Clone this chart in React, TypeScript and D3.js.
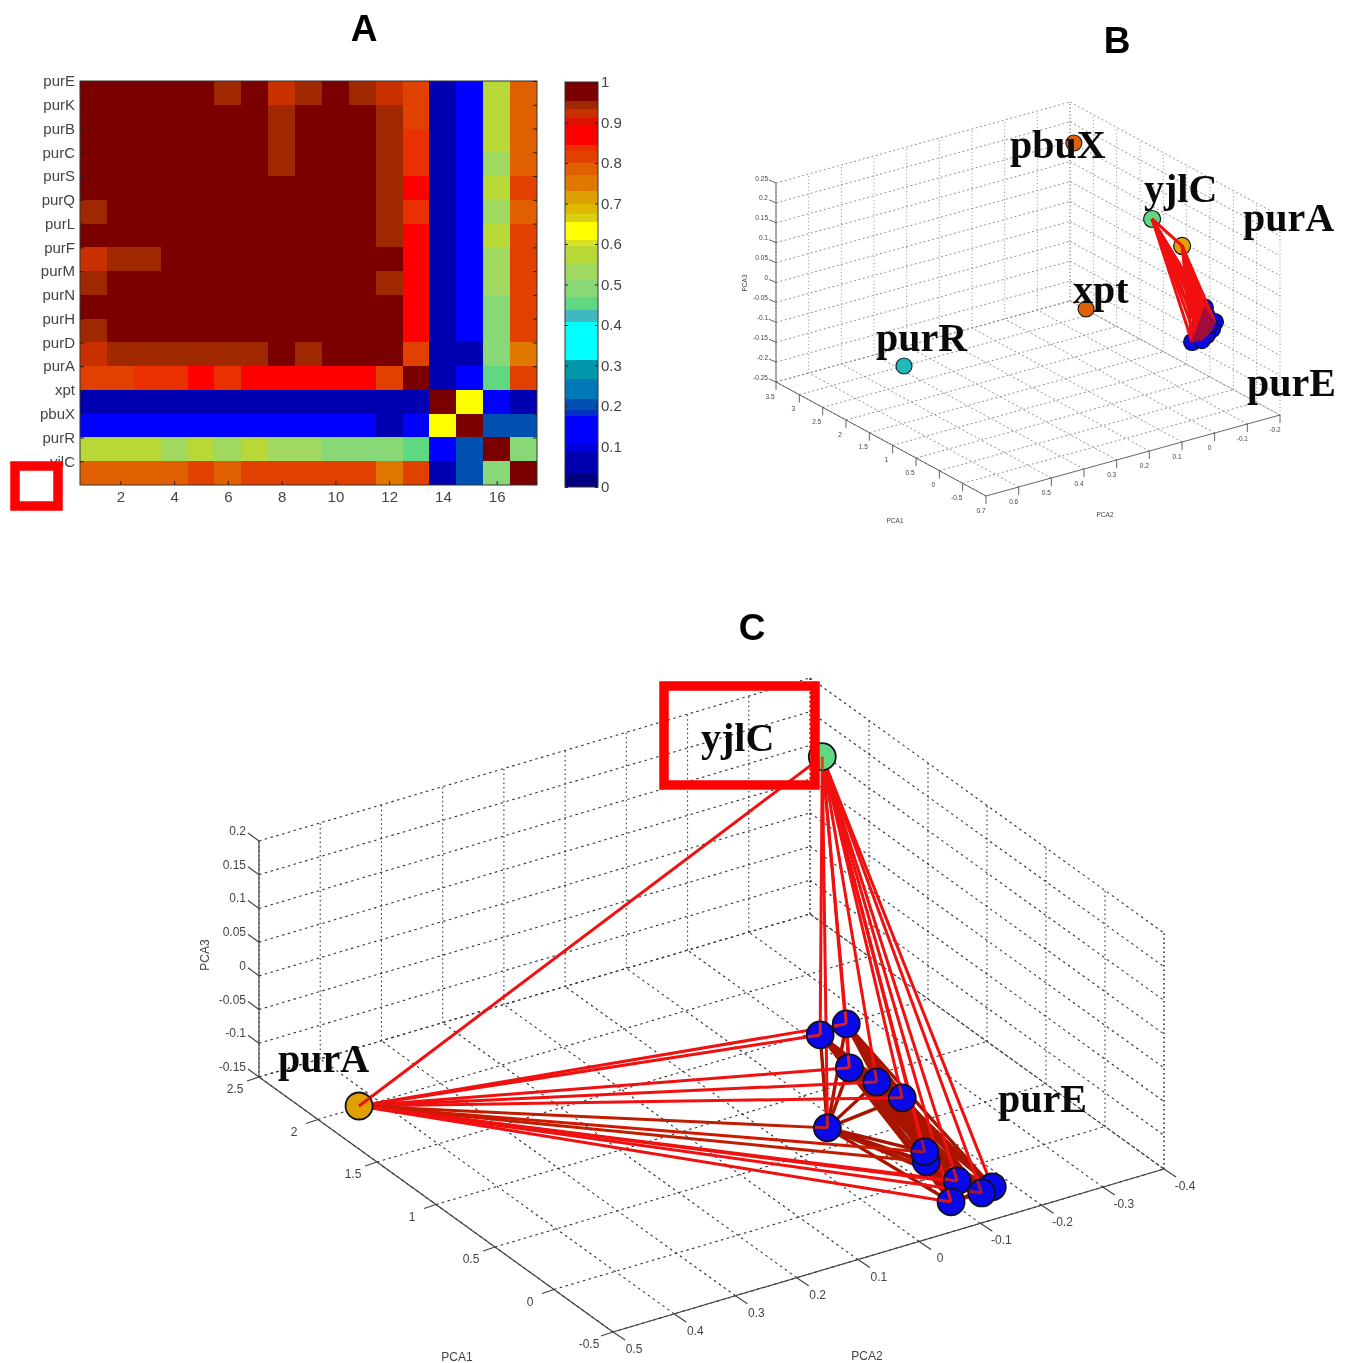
import React, { useRef, useEffect } from 'react';
import * as d3 from 'd3';

// heatmap (panel A)
const genes = ['purE', 'purK', 'purB', 'purC', 'purS', 'purQ', 'purL', 'purF', 'purM', 'purN', 'purH', 'purD', 'purA', 'xpt', 'pbuX', 'purR', 'yjlC'];
const colTicks = [2, 4, 6, 8, 10, 12, 14, 16];
const barTicks = [0, 0.1, 0.2, 0.3, 0.4, 0.5, 0.6, 0.7, 0.8, 0.9, 1];
const corr = [
  [1, 1, 1, 1, 1, 0.94, 1, 0.92, 0.94, 1, 0.94, 0.92, 0.81, 0.07, 0.12, 0.57, 0.78],
  [1, 1, 1, 1, 1, 1, 1, 0.94, 1, 1, 1, 0.94, 0.81, 0.07, 0.12, 0.57, 0.78],
  [1, 1, 1, 1, 1, 1, 1, 0.94, 1, 1, 1, 0.94, 0.84, 0.07, 0.12, 0.57, 0.78],
  [1, 1, 1, 1, 1, 1, 1, 0.94, 1, 1, 1, 0.94, 0.84, 0.07, 0.12, 0.52, 0.78],
  [1, 1, 1, 1, 1, 1, 1, 1, 1, 1, 1, 0.94, 0.87, 0.07, 0.12, 0.57, 0.81],
  [0.94, 1, 1, 1, 1, 1, 1, 1, 1, 1, 1, 0.94, 0.84, 0.07, 0.12, 0.52, 0.78],
  [1, 1, 1, 1, 1, 1, 1, 1, 1, 1, 1, 0.94, 0.87, 0.07, 0.12, 0.57, 0.81],
  [0.92, 0.94, 0.94, 1, 1, 1, 1, 1, 1, 1, 1, 1, 0.87, 0.07, 0.12, 0.52, 0.81],
  [0.94, 1, 1, 1, 1, 1, 1, 1, 1, 1, 1, 0.94, 0.87, 0.07, 0.12, 0.52, 0.81],
  [1, 1, 1, 1, 1, 1, 1, 1, 1, 1, 1, 1, 0.87, 0.07, 0.12, 0.48, 0.81],
  [0.94, 1, 1, 1, 1, 1, 1, 1, 1, 1, 1, 1, 0.87, 0.07, 0.12, 0.48, 0.81],
  [0.92, 0.94, 0.94, 0.94, 0.94, 0.94, 0.94, 1, 0.94, 1, 1, 1, 0.81, 0.07, 0.07, 0.48, 0.75],
  [0.81, 0.81, 0.84, 0.84, 0.87, 0.84, 0.87, 0.87, 0.87, 0.87, 0.87, 0.81, 1, 0.07, 0.12, 0.45, 0.81],
  [0.07, 0.07, 0.07, 0.07, 0.07, 0.07, 0.07, 0.07, 0.07, 0.07, 0.07, 0.07, 0.07, 1, 0.63, 0.12, 0.07],
  [0.12, 0.12, 0.12, 0.12, 0.12, 0.12, 0.12, 0.12, 0.12, 0.12, 0.12, 0.07, 0.12, 0.63, 1, 0.2, 0.2],
  [0.57, 0.57, 0.57, 0.52, 0.57, 0.52, 0.57, 0.52, 0.52, 0.48, 0.48, 0.48, 0.45, 0.12, 0.2, 1, 0.48],
  [0.78, 0.78, 0.78, 0.78, 0.81, 0.78, 0.81, 0.81, 0.81, 0.81, 0.81, 0.75, 0.81, 0.07, 0.2, 0.48, 1],
];
const bandBreaks = [0.035, 0.09, 0.105, 0.175, 0.19, 0.218, 0.267, 0.313, 0.408, 0.437, 0.47, 0.51, 0.55, 0.595, 0.61, 0.655, 0.675, 0.7, 0.73, 0.77, 0.8, 0.83, 0.845, 0.895, 0.91, 0.933, 0.953];
const bandColors = ['#000080', '#0000b0', '#0000e0', '#0000ff', '#0030c0', '#0050b0', '#0078b8', '#0098a8', '#00ffff', '#40b8c0', '#60d880', '#88d878', '#a0d860', '#b8d838', '#d8e020', '#ffff00', '#d8d010', '#e0b800', '#dca000', '#e07800', '#e06000', '#e04000', '#e83000', '#ff0000', '#e01000', '#c83000', '#a02800', '#7a0000'];

// panel B
const bPca1Ticks = [3.5, 3, 2.5, 2, 1.5, 1, 0.5, 0, -0.5];
const bPca2Ticks = [0.7, 0.6, 0.5, 0.4, 0.3, 0.2, 0.1, 0, -0.1, -0.2];
const bPca3Ticks = [0.25, 0.2, 0.15, 0.1, 0.05, 0, -0.05, -0.1, -0.15, -0.2, -0.25];
const bClusterPca1 = [0.267, 0.035, -0.18, -0.342, -0.463, -0.334, -0.462, -0.538, -0.558, -0.215, -0.041, -0.241];
const bClusterPca2 = [-0.151, -0.124, -0.118, -0.086, -0.053, -0.05, -0.02, 0.003, -0.024, -0.095, -0.101, -0.057];
const bClusterPca3 = [-0.05, -0.05, -0.05, -0.05, -0.05, -0.05, -0.05, -0.05, -0.05, -0.05, -0.05, -0.05];
const bHubPca1 = [1.006, 0.887];
const bHubPca2 = [-0.187, -0.078];
const bHubPca3 = [0.05, 0.15];
const bLonePca1 = [2.92, 2.133, 1.954];
const bLonePca2 = [-0.129, -0.054, 0.529];
const bLonePca3 = [0.2, -0.15, -0.15];

// panel C
const cPca1Ticks = [2.5, 2, 1.5, 1, 0.5, 0, -0.5];
const cPca2Ticks = [0.5, 0.4, 0.3, 0.2, 0.1, 0, -0.1, -0.2, -0.3, -0.4];
const cPca3Ticks = [0.2, 0.15, 0.1, 0.05, 0, -0.05, -0.1, -0.15];
const cClusterPca1 = [0.932, 0.904, 0.558, 0.372, 0.177, 0.111, -0.416, -0.33, -0.258, -0.418, -0.394, -0.419];
const cClusterPca2 = [-0.157, -0.109, -0.09, -0.099, -0.103, 0.032, -0.028, -0.042, -0.109, -0.068, -0.14, -0.118];
const cClusterPca3 = [-0.05, -0.05, -0.05, -0.05, -0.05, -0.05, -0.05, -0.05, -0.12, -0.12, -0.12, -0.12];
const cHubPca1 = [1.73, 2.095];
const cHubPca2 = [0.485, -0.342];
const cHubPca3 = [-0.1, 0.15];

const FONT = '"Liberation Sans", Arial, sans-serif';
const SERIF = '"Liberation Serif", "Times New Roman", serif';
const BLUE = '#0808e8';
const GOLD = '#e0a000';
const GREEN = '#60d880';
const ORANGE = '#e06008';
const TEAL = '#20b8b8';
const RED = '#f01010';
const DARK = '#a81400';

// spoke shades from purA, and the short line end left showing on each node of panel C
const cPurAShades = [RED, RED, RED, RED, RED, '#c01c00', '#c01c00', '#d01800', RED, RED, RED, RED];
const cStubShades = ['#d82020', '#d82020', '#d82020', '#b02030', '#b02030', '#c02020', null, '#a01830', '#c81818', '#d81818', null, '#a01830'];

// MATLAB style orthographic box: three scales, each running along one edge of the box
function makeBox(corner, p1Dom, p1Vec, p2Dom, p2Vec, p3Dom) {
  const s1 = d3.scaleLinear().domain(p1Dom).range([0, 1]);
  const s2 = d3.scaleLinear().domain(p2Dom).range([0, 1]);
  const s3 = d3.scaleLinear().domain(p3Dom).range(corner.h);
  const project = (a, b, c) => [
    corner.x + s1(a) * p1Vec[0] + s2(b) * p2Vec[0],
    corner.y + s1(a) * p1Vec[1] + s2(b) * p2Vec[1] + s3(c),
  ];
  return { project, p1Dom, p2Dom, p3Dom };
}

function drawBox(g, box, opt) {
  const { project, p1Dom, p2Dom, p3Dom } = box;
  const [p1Lo, p1Hi] = p1Dom;
  const [p2Lo, p2Hi] = p2Dom;
  const [p3Lo, p3Hi] = p3Dom;
  const seg = (a, b, style) => {
    g.append('line')
      .attr('x1', a[0]).attr('y1', a[1])
      .attr('x2', b[0]).attr('y2', b[1])
      .attr('stroke', style.color)
      .attr('stroke-width', style.width)
      .attr('stroke-dasharray', style.dash || null);
  };
  const vDots = { color: opt.gridColor, width: opt.gridWidth, dash: opt.vDash };
  const hDots = { color: opt.gridColor, width: opt.gridWidth, dash: opt.hDash };

  opt.p1Ticks.forEach(t => {
    seg(project(t, p2Lo, p3Lo), project(t, p2Hi, p3Lo), hDots);
    seg(project(t, p2Hi, p3Lo), project(t, p2Hi, p3Hi), vDots);
  });
  opt.p2Ticks.forEach(t => {
    seg(project(p1Lo, t, p3Lo), project(p1Hi, t, p3Lo), hDots);
    seg(project(p1Hi, t, p3Lo), project(p1Hi, t, p3Hi), vDots);
  });
  opt.p3Ticks.forEach(t => {
    seg(project(p1Hi, p2Lo, t), project(p1Hi, p2Hi, t), hDots);
    seg(project(p1Hi, p2Hi, t), project(p1Lo, p2Hi, t), hDots);
  });
  seg(project(p1Lo, p2Hi, p3Lo), project(p1Lo, p2Hi, p3Hi), vDots);

  const solid = { color: opt.axisColor, width: opt.axisWidth };
  seg(project(p1Hi, p2Lo, p3Lo), project(p1Hi, p2Lo, p3Hi), solid);
  seg(project(p1Hi, p2Lo, p3Lo), project(p1Lo, p2Lo, p3Lo), solid);
  seg(project(p1Lo, p2Lo, p3Lo), project(p1Lo, p2Hi, p3Lo), solid);

  const tickText = (p, off, t, anchor) => {
    g.append('text')
      .attr('x', p[0] + off[0]).attr('y', p[1] + off[1])
      .attr('text-anchor', anchor || 'middle')
      .attr('dominant-baseline', 'central')
      .attr('font-family', FONT)
      .attr('font-size', opt.tickFont)
      .attr('fill', '#444')
      .text(t);
  };
  const tickMark = (p, d) => seg(p, [p[0] + d[0], p[1] + d[1]], solid);

  opt.p1Ticks.forEach(t => {
    const p = project(t, p2Lo, p3Lo);
    tickMark(p, opt.p1Mark);
    tickText(p, opt.p1Label, t);
  });
  opt.p2Ticks.forEach(t => {
    const p = project(p1Lo, t, p3Lo);
    tickMark(p, opt.p2Mark);
    tickText(p, opt.p2Label, t);
  });
  opt.p3Ticks.forEach(t => {
    const p = project(p1Hi, p2Lo, t);
    tickMark(p, opt.p3Mark);
    tickText(p, opt.p3Label, t, 'end');
  });

  opt.axisNames.forEach(a => {
    g.append('text')
      .attr('transform', `translate(${a.x},${a.y}) rotate(${a.rot || 0})`)
      .attr('text-anchor', 'middle')
      .attr('dominant-baseline', 'central')
      .attr('font-family', FONT)
      .attr('font-size', opt.nameFont)
      .attr('fill', '#444')
      .text(a.name);
  });
}

function drawNetwork(g, cluster, hubs, opt) {
  const edge = (a, b, color, width, alpha) => {
    g.append('line')
      .attr('x1', a[0]).attr('y1', a[1])
      .attr('x2', b[0]).attr('y2', b[1])
      .attr('stroke', color)
      .attr('stroke-width', width)
      .attr('stroke-opacity', alpha || 1);
  };
  const dot = (p, color) => {
    g.append('circle')
      .attr('cx', p[0]).attr('cy', p[1]).attr('r', opt.r)
      .attr('fill', color)
      .attr('stroke', '#101020')
      .attr('stroke-width', opt.ring);
  };
  const toward = (a, b, len) => {
    const d = Math.hypot(b[0] - a[0], b[1] - a[1]);
    return [a[0] + (b[0] - a[0]) * len / d, a[1] + (b[1] - a[1]) * len / d];
  };
  const pairs = (fn) => cluster.forEach((a, i) => cluster.slice(i + 1).forEach(b => fn(a, b)));
  const spokes = () => {
    hubs.forEach((h, k) => cluster.forEach((p, i) => {
      edge(h, p, k === 0 ? opt.purAShades[i] : RED, opt.spoke);
    }));
    edge(hubs[0], hubs[1], RED, opt.spoke);
  };

  if (!opt.spokesOnTop) {
    pairs((a, b) => edge(a, b, DARK, opt.band));
    spokes();
  }
  cluster.forEach(p => dot(p, BLUE));
  dot(hubs[0], GOLD);
  dot(hubs[1], GREEN);

  if (opt.spokesOnTop) {
    // small panel: the wedge sits over the nodes and the dark lines tint them
    spokes();
    pairs((a, b) => edge(a, b, '#a01040', opt.band, 0.7));
  } else {
    cluster.forEach((p, i) => {
      if (!opt.stubs[i]) return;
      edge(p, toward(p, hubs[0], opt.r - 1), opt.stubs[i], opt.spoke);
      edge(p, toward(p, hubs[1], opt.r - 1), opt.stubs[i], opt.spoke);
    });
    edge(hubs[0], toward(hubs[0], hubs[1], opt.r), RED, opt.spoke);
    edge(hubs[1], toward(hubs[1], [hubs[1][0], hubs[1][1] + 50], opt.r), '#e84010', opt.spoke);
  }
}

function App() {
  const svgRef = useRef();

  useEffect(() => {
    const svg = d3.select(svgRef.current);
    svg.selectAll('*').remove();
    const root = svg.append('g');

    // ---- A
    const title = (t, x, y) => root.append('text')
      .attr('x', x).attr('y', y)
      .attr('text-anchor', 'middle')
      .attr('font-family', FONT)
      .attr('font-weight', 'bold')
      .attr('font-size', 37)
      .text(t);
    title('A', 364, 41);
    title('B', 1117, 53);
    title('C', 752, 640);

    const color = d3.scaleThreshold().domain(bandBreaks).range(bandColors);
    const x = d3.scaleLinear().domain([0.5, 17.5]).range([80, 537]);
    const y = d3.scaleLinear().domain([0.5, 17.5]).range([81, 485]);

    const heat = root.append('g').attr('shape-rendering', 'crispEdges');
    corr.forEach((row, r) => {
      heat.selectAll(null)
        .data(row)
        .enter()
        .append('rect')
        .attr('x', (d, c) => Math.round(x(c + 0.5)))
        .attr('y', Math.round(y(r + 0.5)))
        .attr('width', (d, c) => Math.round(x(c + 1.5)) - Math.round(x(c + 0.5)))
        .attr('height', Math.round(y(r + 1.5)) - Math.round(y(r + 0.5)))
        .attr('fill', d => color(d));
    });
    root.append('rect')
      .attr('x', 80).attr('y', 81).attr('width', 457).attr('height', 404)
      .attr('fill', 'none').attr('stroke', '#333').attr('stroke-width', 1);

    const styleAxis = sel => {
      sel.attr('font-family', FONT).attr('font-size', 15);
      sel.select('.domain').remove();
      sel.selectAll('line').attr('stroke', '#222');
      sel.selectAll('text').attr('fill', '#444');
    };
    const bottom = root.append('g').attr('transform', 'translate(0,485)')
      .call(d3.axisBottom(x).tickValues(colTicks).tickSize(-4).tickPadding(6).tickFormat(d3.format('d')));
    styleAxis(bottom);
    const left = root.append('g').attr('transform', 'translate(80,0)')
      .call(d3.axisLeft(y).tickValues(genes.map((g, i) => i + 0.5)).tickSize(-4).tickPadding(5).tickFormat((d, i) => genes[i]));
    styleAxis(left);
    const right = root.append('g').attr('transform', 'translate(537,0)')
      .call(d3.axisRight(y).tickValues(genes.map((g, i) => i + 0.5)).tickSize(-4).tickFormat(''));
    styleAxis(right);

    // colorbar
    const bar = d3.scaleLinear().domain([0, 1]).range([487, 82]);
    const edges = [0, ...bandBreaks, 1];
    root.append('g').attr('shape-rendering', 'crispEdges').selectAll('rect')
      .data(bandColors)
      .enter()
      .append('rect')
      .attr('x', 565)
      .attr('width', 33)
      .attr('y', (d, i) => Math.round(bar(edges[i + 1])))
      .attr('height', (d, i) => Math.round(bar(edges[i])) - Math.round(bar(edges[i + 1])))
      .attr('fill', d => d);
    root.append('rect')
      .attr('x', 565).attr('y', 82).attr('width', 33).attr('height', 405)
      .attr('fill', 'none').attr('stroke', '#333').attr('stroke-width', 1);
    const barRight = root.append('g').attr('transform', 'translate(598,0)')
      .call(d3.axisRight(bar).tickValues(barTicks).tickSize(-3).tickPadding(3).tickFormat(d => String(d)));
    styleAxis(barRight);
    const barLeft = root.append('g').attr('transform', 'translate(565,0)')
      .call(d3.axisLeft(bar).tickValues(barTicks).tickSize(-3).tickFormat(''));
    styleAxis(barLeft);

    // ---- B
    const gb = root.append('g');
    const boxB = makeBox({ x: 986, y: 496, h: [0, -199] }, [-1, 3.5], [-210, -114], [0.7, -0.2], [294, -81], [-0.25, 0.25]);
    drawBox(gb, boxB, {
      p1Ticks: bPca1Ticks, p2Ticks: bPca2Ticks, p3Ticks: bPca3Ticks,
      gridColor: '#777', gridWidth: 0.8, vDash: '1 2.5', hDash: '2 2.5',
      axisColor: '#555', axisWidth: 0.9,
      p1Mark: [0, 8], p2Mark: [0, 8], p3Mark: [-7, -3],
      p1Label: [-6, 14], p2Label: [-5, 14], p3Label: [-8, -5],
      tickFont: 6.5, nameFont: 6.5,
      axisNames: [
        { name: 'PCA1', x: 895, y: 520 },
        { name: 'PCA2', x: 1105, y: 514 },
        { name: 'PCA3', x: 744, y: 283, rot: -90 },
      ],
    });
    const bCluster = bClusterPca1.map((d, i) => boxB.project(d, bClusterPca2[i], bClusterPca3[i]));
    const bHubs = bHubPca1.map((d, i) => boxB.project(d, bHubPca2[i], bHubPca3[i]));
    drawNetwork(gb, bCluster, bHubs, {
      r: 8.5, ring: 1.2, spoke: 3, band: 1.6, spokesOnTop: true, purAShades: bCluster.map(() => RED),
    });
    const loneColors = [ORANGE, ORANGE, TEAL];
    bLonePca1.forEach((d, i) => {
      const p = boxB.project(d, bLonePca2[i], bLonePca3[i]);
      gb.append('circle')
        .attr('cx', p[0]).attr('cy', p[1]).attr('r', 8)
        .attr('fill', loneColors[i])
        .attr('stroke', '#222')
        .attr('stroke-width', 1.2);
    });

    // ---- C
    const gc = root.append('g');
    const boxC = makeBox({ x: 613, y: 1332, h: [0, -236] }, [-0.5, 2.5], [-354, -255], [0.5, -0.4], [551, -163], [-0.15, 0.2]);
    drawBox(gc, boxC, {
      p1Ticks: cPca1Ticks, p2Ticks: cPca2Ticks, p3Ticks: cPca3Ticks,
      gridColor: '#333', gridWidth: 1.1, vDash: '1.5 3', hDash: '2.5 3.5',
      axisColor: '#444', axisWidth: 1.2,
      p1Mark: [-12, 4], p2Mark: [12, 8], p3Mark: [-11, -8],
      p1Label: [-24, 12], p2Label: [21, 17], p3Label: [-13, -10],
      tickFont: 12, nameFont: 12,
      axisNames: [
        { name: 'PCA1', x: 457, y: 1357 },
        { name: 'PCA2', x: 867, y: 1356 },
        { name: 'PCA3', x: 205, y: 955, rot: -90 },
      ],
    });
    const cCluster = cClusterPca1.map((d, i) => boxC.project(d, cClusterPca2[i], cClusterPca3[i]));
    const cHubs = cHubPca1.map((d, i) => boxC.project(d, cHubPca2[i], cHubPca3[i]));
    drawNetwork(gc, cCluster, cHubs, {
      r: 13.5, ring: 1.8, spoke: 3, band: 3.4, spokesOnTop: false,
      purAShades: cPurAShades, stubs: cStubShades,
    });

    // gene names
    const geneText = (t, px, py) => root.append('text')
      .attr('x', px).attr('y', py)
      .attr('font-family', SERIF)
      .attr('font-weight', 'bold')
      .attr('font-size', 40)
      .attr('fill', '#0a0a0a')
      .text(t);
    geneText('pbuX', 1010, 158);
    geneText('yjlC', 1144, 202);
    geneText('purA', 1243, 231);
    geneText('xpt', 1073, 303);
    geneText('purR', 876, 351);
    geneText('purE', 1247, 396);
    geneText('yjlC', 701, 751);
    geneText('purA', 278, 1072);
    geneText('purE', 998, 1112);

    // red call-out boxes
    const callout = (bx, by, bw, bh) => root.append('rect')
      .attr('x', bx).attr('y', by).attr('width', bw).attr('height', bh)
      .attr('fill', 'none').attr('stroke', '#ff0000').attr('stroke-width', 9.5);
    callout(15, 466, 43, 40);
    callout(664, 686, 151, 99);
  }, []);

  return (
    <svg
      ref={svgRef}
      width={1347}
      height={1363}
      style={{ position: 'absolute', left: 0, top: 0, background: '#fff', filter: 'blur(0.5px)' }}
    />
  );
}

export default App;
